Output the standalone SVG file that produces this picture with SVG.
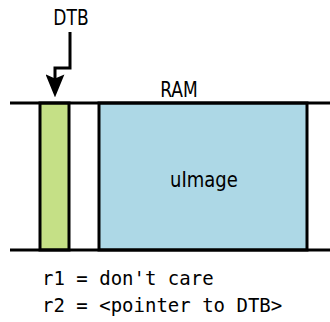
<svg xmlns="http://www.w3.org/2000/svg" width="330" height="322" viewBox="0 0 330 322">
  <style>
    .rail { stroke: #000; stroke-width: 3; fill: none; }
    .block { stroke: #000; stroke-width: 3; }
    .label { font-family: "DejaVu Sans Condensed", "DejaVu Sans", sans-serif; font-size: 19px; fill: #000; }
    .code { font-family: "DejaVu Sans Mono", monospace; font-size: 19px; fill: #000; }
  </style>
  <defs>
    <!-- notched arrowhead, tip 13px past the end of the stem -->
    <marker id="head" viewBox="0 0 22 18" refX="13" refY="9" markerWidth="23" markerHeight="19" markerUnits="userSpaceOnUse" orient="auto">
      <path d="M0,0 L22,9 L0,18 L4,9 Z" fill="#000"/>
    </marker>
  </defs>

  <g id="ram">
    <rect id="dtb-block" class="block" x="40" y="103" width="29" height="147" fill="#c5e086"/>
    <rect id="uimage-block" class="block" x="99" y="103" width="208" height="147" fill="#add8e6"/>
    <line class="rail" x1="10" y1="103" x2="330" y2="103"/>
    <line class="rail" x1="10" y1="250" x2="330" y2="250"/>
    <text class="label" transform="translate(179,97) scale(1,1.1)" text-anchor="middle">RAM</text>
    <text class="label" style="font-size:20px" transform="translate(204,187) scale(1,1.1)" text-anchor="middle">uImage</text>
  </g>

  <g id="dtb">
    <text class="label" transform="translate(71,25) scale(1,1.1)" text-anchor="middle">DTB</text>
  </g>

  <g id="connectors">
    <path class="rail" d="M70,32 V68 H55 V88" marker-end="url(#head)"/>
  </g>

  <g id="registers">
    <text class="code" x="42" y="285">r1 = don't care</text>
    <text class="code" x="42" y="312">r2 = &lt;pointer to DTB&gt;</text>
  </g>
</svg>
